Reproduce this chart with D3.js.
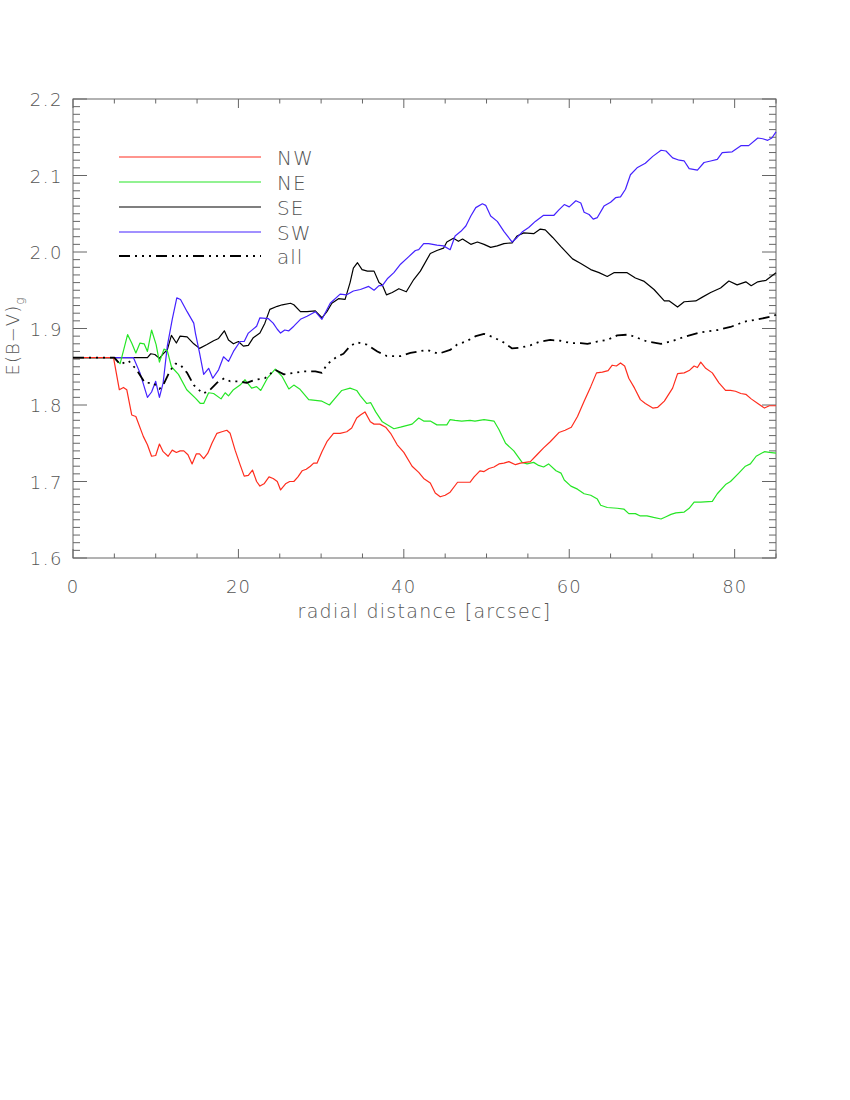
<!DOCTYPE html>
<html><head><meta charset="utf-8">
<script src="https://cdn.jsdelivr.net/npm/d3@7"></script>
<style>body{margin:0;background:#fff}svg{display:block}</style>
</head><body>
<svg id="c" width="850" height="1100"></svg>
<script>
const seriesNames = ["NW","NE","SE","SW","all"];
const seriesColors = ["#ff2d1e","#26e626","#000000","#4422ff","#000000"];
const xTicks = [0,20,40,60,80];
const yTicks = [1.6,1.7,1.8,1.9,2.0,2.1,2.2];
const xLabel = "radial distance [arcsec]";

const nw = [[0,1.862],[4.9,1.862],[5.6,1.820],[6.1,1.823],[6.5,1.820],[7.1,1.787],[7.6,1.785],[8.5,1.759],[9.0,1.748],[9.5,1.733],[10.0,1.734],[10.45,1.749],[10.9,1.739],[11.5,1.733],[12.0,1.741],[12.5,1.738],[12.95,1.740],[13.4,1.740],[13.9,1.735],[14.4,1.723],[14.9,1.736],[15.3,1.736],[15.8,1.730],[16.3,1.737],[16.8,1.750],[17.4,1.763],[18.0,1.765],[18.6,1.767],[19.0,1.763],[19.6,1.741],[20.2,1.722],[20.7,1.707],[21.2,1.708],[21.7,1.715],[22.2,1.700],[22.6,1.694],[23.1,1.697],[23.7,1.706],[24.2,1.704],[24.7,1.700],[25.1,1.689],[25.7,1.697],[26.2,1.700],[26.7,1.700],[27.2,1.706],[27.7,1.714],[28.2,1.716],[28.7,1.720],[29.1,1.724],[29.5,1.724],[30.1,1.739],[30.7,1.752],[31.5,1.763],[32.3,1.763],[33.1,1.765],[33.7,1.770],[34.3,1.783],[34.75,1.787],[35.3,1.791],[35.95,1.778],[36.4,1.775],[37.1,1.775],[37.8,1.771],[38.4,1.763],[39.2,1.748],[40.0,1.738],[41.0,1.720],[41.8,1.712],[42.4,1.704],[43.2,1.698],[43.8,1.685],[44.4,1.680],[45.0,1.682],[45.6,1.686],[46.5,1.699],[47.2,1.699],[48.0,1.699],[48.5,1.706],[49.2,1.714],[49.7,1.713],[50.3,1.717],[50.9,1.719],[51.5,1.723],[52.1,1.724],[52.7,1.726],[53.5,1.722],[54.1,1.724],[54.7,1.725],[55.3,1.726],[56.1,1.735],[56.9,1.744],[57.7,1.752],[58.75,1.764],[59.5,1.767],[60.25,1.771],[61.0,1.785],[61.8,1.805],[62.6,1.824],[63.3,1.842],[64.0,1.843],[64.7,1.845],[65.2,1.852],[65.7,1.851],[66.2,1.855],[66.7,1.851],[67.2,1.835],[67.9,1.822],[68.6,1.807],[69.2,1.802],[70.1,1.796],[70.7,1.797],[71.5,1.805],[72.5,1.822],[73.1,1.841],[73.9,1.842],[74.5,1.845],[75.1,1.851],[75.5,1.849],[75.9,1.856],[76.5,1.848],[77.3,1.842],[78.1,1.829],[78.9,1.819],[79.5,1.819],[80.1,1.818],[80.75,1.815],[81.35,1.814],[82.0,1.808],[82.8,1.802],[83.6,1.796],[84.2,1.799],[85,1.799]];

const ne = [[0,1.862],[4.9,1.862],[5.7,1.854],[6.6,1.892],[7.1,1.881],[7.6,1.868],[8.1,1.881],[8.6,1.880],[9.0,1.870],[9.5,1.898],[10.05,1.879],[10.45,1.856],[11.0,1.873],[11.4,1.871],[11.9,1.850],[12.75,1.840],[13.75,1.820],[14.8,1.809],[15.4,1.802],[15.8,1.802],[16.4,1.816],[17.0,1.815],[17.9,1.808],[18.4,1.816],[18.8,1.812],[19.4,1.820],[20.2,1.826],[20.8,1.833],[21.6,1.822],[22.2,1.824],[22.7,1.819],[23.5,1.835],[24.45,1.847],[25.3,1.837],[26.1,1.821],[26.7,1.826],[27.4,1.821],[28.5,1.807],[29.3,1.806],[30.1,1.805],[31.0,1.800],[31.7,1.809],[32.5,1.819],[33.5,1.822],[34.3,1.819],[34.75,1.812],[35.5,1.802],[36.0,1.803],[36.6,1.791],[37.4,1.778],[38.2,1.773],[38.8,1.769],[39.6,1.771],[41.0,1.775],[41.8,1.783],[42.4,1.779],[43.2,1.779],[44.0,1.774],[45.2,1.774],[45.6,1.781],[46.2,1.780],[47.0,1.779],[48.0,1.780],[48.6,1.779],[49.7,1.781],[50.9,1.779],[51.5,1.768],[52.3,1.750],[53.3,1.740],[54.3,1.725],[54.9,1.723],[55.7,1.725],[56.3,1.721],[56.9,1.719],[57.5,1.723],[58.4,1.714],[59.0,1.711],[59.4,1.702],[60.2,1.694],[61.0,1.690],[61.8,1.684],[62.6,1.682],[63.4,1.677],[63.8,1.669],[64.6,1.666],[65.8,1.665],[66.6,1.664],[67.2,1.658],[68.0,1.658],[68.6,1.655],[69.4,1.655],[70.2,1.653],[71.1,1.651],[71.7,1.654],[72.3,1.657],[72.9,1.659],[73.9,1.660],[74.5,1.665],[75.1,1.673],[75.9,1.673],[77.3,1.674],[77.9,1.684],[78.9,1.696],[79.5,1.700],[80.5,1.711],[81.3,1.720],[81.9,1.723],[82.6,1.733],[83.6,1.739],[84.2,1.738],[85,1.737]];

const se = [[0,1.862],[9.0,1.862],[9.4,1.867],[9.9,1.866],[10.45,1.861],[11.0,1.868],[11.4,1.872],[11.9,1.891],[12.5,1.881],[12.95,1.890],[13.8,1.889],[14.6,1.880],[15.3,1.874],[16.2,1.879],[17.0,1.884],[17.6,1.887],[18.3,1.897],[18.8,1.885],[19.4,1.880],[20.0,1.883],[20.6,1.877],[21.2,1.878],[21.8,1.888],[22.6,1.894],[23.2,1.907],[23.8,1.925],[24.7,1.929],[25.3,1.931],[26.3,1.933],[26.7,1.931],[27.5,1.922],[28.3,1.922],[29.3,1.923],[30.1,1.914],[30.7,1.922],[31.3,1.933],[32.1,1.939],[32.9,1.938],[33.5,1.960],[33.9,1.979],[34.4,1.986],[34.95,1.977],[35.6,1.975],[36.4,1.975],[37.0,1.960],[37.4,1.957],[37.9,1.944],[38.6,1.947],[39.4,1.952],[40.3,1.948],[41.2,1.964],[42.0,1.975],[43.2,1.998],[44.0,2.002],[44.8,2.005],[45.2,2.013],[46.0,2.018],[46.6,2.014],[47.1,2.017],[48.1,2.010],[48.9,2.013],[49.7,2.010],[50.5,2.006],[51.3,2.008],[52.1,2.011],[53.1,2.012],[53.7,2.021],[54.5,2.025],[55.7,2.024],[56.5,2.030],[57.1,2.029],[58.0,2.019],[59.0,2.007],[60.4,1.991],[61.4,1.985],[62.6,1.977],[63.6,1.973],[64.6,1.968],[65.4,1.973],[67.0,1.973],[68.0,1.966],[69.0,1.962],[70.25,1.951],[71.5,1.936],[72.1,1.936],[73.1,1.928],[73.9,1.935],[75.3,1.936],[76.1,1.941],[77.1,1.947],[78.3,1.953],[79.3,1.962],[80.3,1.957],[81.35,1.961],[82.0,1.956],[82.8,1.961],[83.8,1.963],[85,1.973]];

const sw = [[0,1.862],[7.3,1.862],[8.1,1.842],[9.0,1.810],[9.5,1.817],[10.0,1.831],[10.45,1.810],[10.9,1.829],[11.4,1.877],[12.0,1.912],[12.55,1.940],[13.0,1.938],[13.8,1.922],[14.6,1.907],[14.8,1.894],[15.3,1.868],[15.8,1.840],[16.4,1.848],[16.9,1.835],[17.6,1.846],[18.2,1.863],[18.8,1.857],[19.4,1.870],[20.2,1.883],[20.7,1.883],[21.2,1.894],[22.2,1.903],[22.6,1.914],[23.6,1.913],[24.2,1.907],[24.7,1.899],[25.1,1.894],[25.6,1.898],[26.1,1.897],[26.7,1.903],[27.5,1.912],[28.3,1.916],[29.3,1.922],[30.1,1.912],[31.1,1.933],[32.3,1.945],[33.1,1.944],[33.9,1.949],[34.75,1.951],[35.75,1.955],[36.4,1.950],[37.0,1.956],[37.4,1.956],[38.0,1.965],[38.8,1.973],[39.6,1.984],[40.6,1.994],[41.4,2.002],[41.8,2.003],[42.4,2.011],[43.0,2.011],[44.0,2.009],[44.8,2.008],[45.6,2.003],[46.2,2.021],[46.9,2.027],[47.5,2.034],[48.1,2.047],[48.7,2.058],[49.5,2.063],[49.9,2.061],[50.5,2.047],[51.3,2.040],[52.1,2.027],[53.1,2.013],[53.7,2.019],[54.3,2.026],[55.1,2.032],[55.9,2.040],[56.9,2.048],[58.15,2.048],[58.75,2.055],[59.4,2.062],[60.0,2.059],[60.8,2.067],[61.4,2.064],[61.8,2.052],[62.4,2.049],[62.9,2.043],[63.4,2.045],[64.2,2.060],[65.0,2.065],[65.6,2.071],[66.2,2.072],[66.8,2.082],[67.4,2.101],[68.2,2.110],[69.2,2.116],[70.1,2.125],[71.1,2.133],[71.7,2.132],[72.5,2.123],[73.3,2.120],[73.9,2.119],[74.5,2.109],[75.5,2.107],[76.3,2.117],[77.1,2.119],[77.9,2.121],[78.5,2.130],[79.7,2.131],[80.75,2.139],[81.7,2.139],[82.8,2.149],[83.4,2.148],[84.0,2.146],[84.5,2.149],[85,2.157]];

const all = [[0,1.862],[5.0,1.862],[5.7,1.853],[6.7,1.858],[7.7,1.846],[8.7,1.829],[9.7,1.829],[10.45,1.821],[10.9,1.826],[11.7,1.844],[12.35,1.854],[12.95,1.853],[13.8,1.842],[14.6,1.826],[15.7,1.815],[16.4,1.818],[17.4,1.829],[18.3,1.835],[19.0,1.831],[20.0,1.831],[21.0,1.829],[22.0,1.833],[23.2,1.835],[24.45,1.846],[25.5,1.840],[26.7,1.842],[27.9,1.844],[29.3,1.844],[30.1,1.842],[30.7,1.853],[31.9,1.863],[32.7,1.867],[33.5,1.877],[34.3,1.882],[35.5,1.879],[36.8,1.870],[37.95,1.864],[39.6,1.864],[40.8,1.868],[42.8,1.872],[44.2,1.867],[45.6,1.872],[46.45,1.879],[47.5,1.883],[48.7,1.890],[49.7,1.893],[50.7,1.889],[51.9,1.883],[53.1,1.874],[54.1,1.875],[55.3,1.878],[56.5,1.883],[57.7,1.885],[58.9,1.884],[60.2,1.881],[61.4,1.881],[62.2,1.880],[63.4,1.883],[64.6,1.885],[65.8,1.891],[67.2,1.892],[68.2,1.888],[69.4,1.883],[71.1,1.880],[72.3,1.883],[73.9,1.889],[75.9,1.895],[77.9,1.898],[79.5,1.902],[81.2,1.909],[82.8,1.912],[84.6,1.916],[85,1.918]];

const seriesData = [nw, ne, se, sw, all];

const svg = d3.select("#c");
const L = 73, R = 776, T = 99, B = 558;
const x = d3.scaleLinear().domain([0,85]).range([L,R]);
const y = d3.scaleLinear().domain([1.6,2.2]).range([B,T]);
const axisColor = "#666";
const textColor = "#555";
const font = "DejaVu Sans, sans-serif";
const fw = 200;

// frame
svg.append("rect").attr("x",L).attr("y",T).attr("width",R-L).attr("height",B-T)
  .attr("fill","none").attr("stroke",axisColor).attr("stroke-width",1);

// x ticks
d3.range(0,86,5).forEach(v=>{
  const len = v%20===0?9:4.5;
  svg.append("line").attr("x1",x(v)).attr("x2",x(v)).attr("y1",B).attr("y2",B-len).attr("stroke",axisColor);
  svg.append("line").attr("x1",x(v)).attr("x2",x(v)).attr("y1",T).attr("y2",T+len).attr("stroke",axisColor);
});
// y ticks
d3.range(0,61).forEach(i=>{
  const v = 1.6+i*0.01;
  const len = i%10===0?14:7;
  svg.append("line").attr("x1",L).attr("x2",L+len).attr("y1",y(v)).attr("y2",y(v)).attr("stroke",axisColor);
  svg.append("line").attr("x1",R).attr("x2",R-len).attr("y1",y(v)).attr("y2",y(v)).attr("stroke",axisColor);
});

// tick labels
svg.append("g").selectAll("text").data(xTicks).join("text")
  .attr("x",d=>x(d)).attr("y",B+35).attr("text-anchor","middle")
  .attr("font-family",font).attr("font-weight",fw).attr("font-size",18).attr("letter-spacing",1)
  .attr("fill",textColor).text(d=>d);
svg.append("g").selectAll("text").data(yTicks).join("text")
  .attr("x",L-10).attr("y",d=>y(d)+7).attr("text-anchor","end")
  .attr("font-family",font).attr("font-weight",fw).attr("font-size",18).attr("letter-spacing",1.5)
  .attr("fill",textColor).text(d=>d.toFixed(1));

// axis titles
svg.append("text").attr("x",(L+R)/2).attr("y",618).attr("text-anchor","middle")
  .attr("font-family",font).attr("font-weight",fw).attr("font-size",19).attr("letter-spacing",1.3)
  .attr("fill",textColor).text(xLabel);
const yt = svg.append("text").attr("transform",`translate(19,336) rotate(-90)`)
  .attr("text-anchor","middle").attr("font-family",font).attr("font-weight",fw).attr("font-size",18)
  .attr("letter-spacing",1).attr("fill",textColor);
yt.append("tspan").text("E(B\u2212V)");
yt.append("tspan").attr("dy",5).attr("font-size",12).text("g");

// lines
const line = d3.line().x(d=>x(d[0])).y(d=>y(d[1]));
const dashAll = "11,5,2,5,2,5,2,5";
[2,3,1,0,4].forEach(i=>{
  svg.append("path").datum(seriesData[i]).attr("d",line).attr("fill","none")
    .attr("stroke",seriesColors[i]).attr("stroke-width",i===4?1.8:1.2)
    .attr("stroke-linejoin","round")
    .attr("stroke-dasharray",i===4?dashAll:null);
});

// legend
const legendY = [157,182,207,232,256];
seriesNames.forEach((n,i)=>{
  const ly = legendY[i];
  svg.append("line").attr("x1",119).attr("x2",261).attr("y1",ly).attr("y2",ly)
    .attr("stroke",seriesColors[i]).attr("stroke-width",i===4?1.8:1.2)
    .attr("stroke-dasharray",i===4?dashAll:null);
  svg.append("text").attr("x",277).attr("y",ly+7.5).attr("font-family",font).attr("font-weight",fw)
    .attr("font-size",20).attr("letter-spacing",1).attr("fill",textColor).text(n);
});
</script>
</body></html>
